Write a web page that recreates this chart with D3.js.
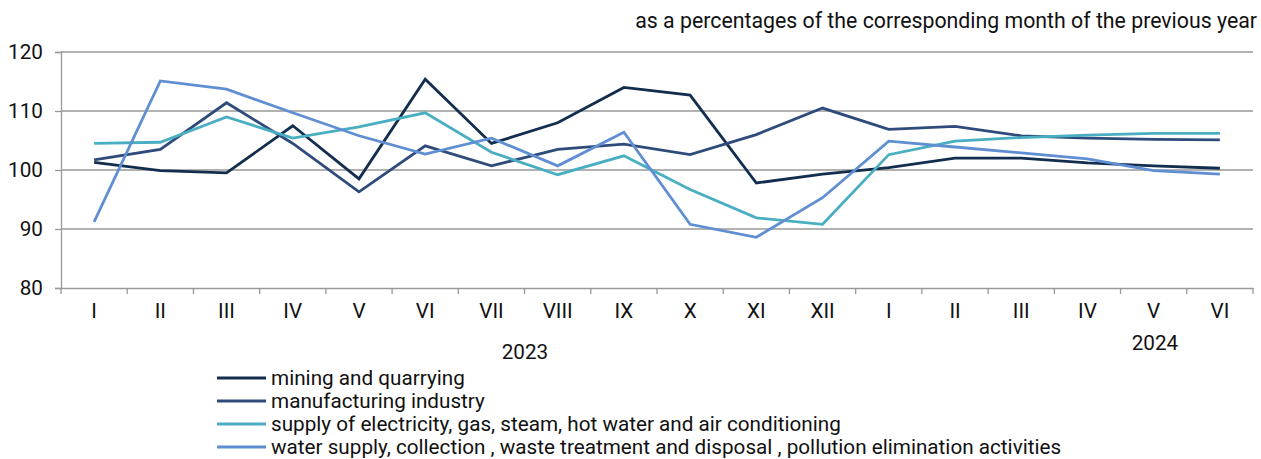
<!DOCTYPE html>
<html><head><meta charset="utf-8">
<script src="https://cdn.jsdelivr.net/npm/d3@7"></script>
<style>body{margin:0;background:#fff;} text{font-family:Roboto,"Noto Sans",sans-serif;fill:#111;}</style>
</head><body>
<svg id="c" width="1261" height="459"></svg>
<script>
const months = ["I","II","III","IV","V","VI","VII","VIII","IX","X","XI","XII","I","II","III","IV","V","VI"];
const yTicks = [80,90,100,110,120];
const seriesNames = ["mining and quarrying","manufacturing industry","supply of electricity, gas, steam, hot water and air conditioning","water supply, collection , waste treatment and disposal , pollution elimination activities"];
const mining = [101.3,99.9,99.5,107.5,98.5,115.4,104.5,108.0,114.0,112.7,97.8,99.3,100.4,102.0,102.0,101.2,100.7,100.3];
const manufacturing = [101.7,103.5,111.4,104.5,96.3,104.1,100.7,103.5,104.4,102.6,106.0,110.5,106.9,107.4,105.8,105.4,105.2,105.1];
const electricity = [104.5,104.7,109.0,105.4,107.3,109.7,103.0,99.2,102.4,96.7,91.9,90.8,102.6,104.9,105.5,105.9,106.2,106.2];
const water = [91.2,115.1,113.7,109.7,105.8,102.7,105.4,100.7,106.4,90.8,88.6,95.3,104.9,103.9,102.9,101.9,99.9,99.3];
const colors = ["#132d4f","#2f4b7b","#4aaec3","#5f8fd2"];
const allSeries = [mining, manufacturing, electricity, water];
const FS = "20.7px";

const svg = d3.select("#c");
const L=61, R=1253, T=52, B=288;
const x = d3.scaleBand().domain(d3.range(months.length)).range([L,R]);
const y = d3.scaleLinear().domain([80,120]).range([B,T]);

// gridlines
svg.append("g").selectAll("line").data(yTicks.filter(d=>d>80)).join("line")
  .attr("x1",L).attr("x2",R).attr("y1",d=>y(d)).attr("y2",d=>y(d))
  .attr("stroke","#999").attr("stroke-width",1.3);

// y axis
const ya = svg.append("g").attr("transform",`translate(${L},0)`)
  .call(d3.axisLeft(y).tickValues(yTicks).tickSize(6).tickPadding(12));
ya.select(".domain").attr("stroke","#999").attr("stroke-width",1.3);
ya.selectAll(".tick line").attr("stroke","#999").attr("stroke-width",1.3);
ya.selectAll("text").style("font-size",FS).style("font-family","Roboto").attr("fill","#111");

// x axis
const xa = svg.append("g").attr("transform",`translate(0,${B})`)
  .call(d3.axisBottom(x).tickFormat(i=>months[i]).tickSize(0).tickPadding(15));
xa.select(".domain").attr("stroke","#999").attr("stroke-width",1.3);
xa.selectAll("text").style("font-size",FS).style("font-family","Roboto").attr("fill","#111");
// boundary ticks
const bounds = d3.range(months.length+1).map(i=> i<months.length ? x(i) : x(months.length-1)+x.bandwidth());
svg.append("g").selectAll("line").data(bounds).join("line")
  .attr("x1",d=>d).attr("x2",d=>d).attr("y1",B).attr("y2",B+6)
  .attr("stroke","#999").attr("stroke-width",1.3);

// year labels
svg.append("text").attr("x",525).attr("y",359).attr("text-anchor","middle").style("font-size",FS).text("2023");
svg.append("text").attr("x",1155).attr("y",350).attr("text-anchor","middle").style("font-size",FS).text("2024");

// lines
const line = d3.line().x((d,i)=>x(i)+x.bandwidth()/2).y(d=>y(d));
allSeries.forEach((s,k)=>{
  svg.append("path").datum(s).attr("d",line).attr("fill","none")
    .attr("stroke",colors[k]).attr("stroke-width",2.8).attr("stroke-linejoin","miter");
});

// subtitle
svg.append("text").attr("x",1257).attr("y",28).attr("text-anchor","end").style("font-size","21.3px")
  .text("as a percentages of the corresponding month of the previous year");

// legend
const lg = svg.append("g");
seriesNames.forEach((n,k)=>{
  const yy = 378 + k*23;
  lg.append("line").attr("x1",217).attr("x2",266).attr("y1",yy).attr("y2",yy)
    .attr("stroke",colors[k]).attr("stroke-width",3);
  lg.append("text").attr("x",271).attr("y",yy+7).style("font-size",FS).text(n);
});
</script>
</body></html>
